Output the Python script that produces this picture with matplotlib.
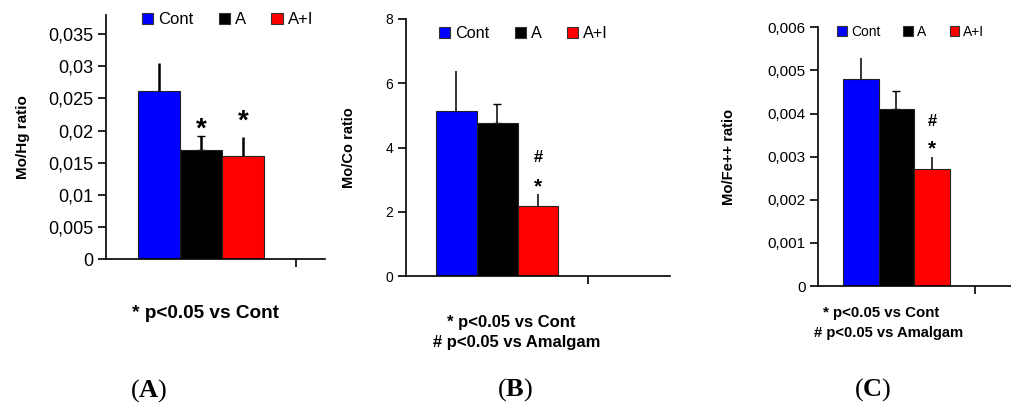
import matplotlib
matplotlib.use("Agg")
import matplotlib.pyplot as plt
from matplotlib.patches import Patch
import numpy as np

plt.rcParams['font.family'] = ['Liberation Sans', 'DejaVu Sans']
plt.rcParams['mathtext.fontset'] = 'custom'
plt.rcParams['mathtext.rm'] = 'Liberation Serif'
plt.rcParams['mathtext.bf'] = 'Liberation Serif:bold'

groups = ["Cont", "A", "A+I"]
colors = ["#0000FF", "#000000", "#FF0000"]

# Panel A: Mo/Hg
hg_vals = [0.0261, 0.0169, 0.0160]
hg_err = [0.0045, 0.0023, 0.0030]
hg_marks = [[], ["*"], ["*"]]
hg_ticks = [0, 0.005, 0.01, 0.015, 0.02, 0.025, 0.03, 0.035]
hg_ticklabels = ["0", "0,005", "0,01", "0,015", "0,02", "0,025", "0,03", "0,035"]

# Panel B: Mo/Co
co_vals = [5.15, 4.77, 2.19]
co_err = [1.24, 0.59, 0.35]
co_marks = [[], [], ["*", "#"]]
co_ticks = [0, 2, 4, 6, 8]
co_ticklabels = ["0", "2", "4", "6", "8"]

# Panel C: Mo/Fe++
fe_vals = [0.00480, 0.00411, 0.00272]
fe_err = [0.00048, 0.00041, 0.00027]
fe_marks = [[], [], ["*", "#"]]
fe_ticks = [0, 0.001, 0.002, 0.003, 0.004, 0.005, 0.006]
fe_ticklabels = ["0", "0,001", "0,002", "0,003", "0,004", "0,005", "0,006"]

W, H = 1012, 405
fig = plt.figure(figsize=(W / 100, H / 100), dpi=100)

# glyph vertical centre (fraction of em above baseline)
GLYPH_CENTER = {"*": 0.44, "#": 0.35}
CAPS = [0, 3, 0]


def px_axes(l, r, b, t):
    return fig.add_axes([l / W, 1 - b / H, (r - l) / W, (b - t) / H])


def panel(ax, vals, errs, marks, ticks, ticklabels, ylim, xright, bw,
          ylabel, ylsize, ticksize, legsize, legpos, colsp, mark_style, elw):
    x = np.array([-1, 0, 1]) * bw
    for i in range(3):
        ax.bar(x[i], vals[i], width=bw, color=colors[i], edgecolor="#222222",
               linewidth=0.8, zorder=2)
        ax.errorbar(x[i], vals[i], yerr=[[0], [errs[i]]], color="black",
                    linewidth=elw, capsize=CAPS[i], capthick=1.0, zorder=1)
        for j, m in enumerate(marks[i]):
            fs, centre_px = mark_style[(i, j)]
            off = centre_px - GLYPH_CENTER[m] * fs * 100 / 72
            ax.annotate(m, (x[i], vals[i] + errs[i]), xytext=(0, off),
                        textcoords="offset pixels", ha="center", va="baseline",
                        fontsize=fs, fontweight="bold")
    ax.set_xlim(-0.5, xright)
    ax.set_ylim(*ylim)
    ax.set_xticks([0.5])
    ax.set_xticklabels([""])
    ax.set_yticks(ticks)
    ax.set_yticklabels(ticklabels, fontsize=ticksize)
    for s in ["top", "right"]:
        ax.spines[s].set_visible(False)
    for s in ["left", "bottom"]:
        ax.spines[s].set_linewidth(1.2)
    ax.tick_params(axis="both", direction="out", length=6, width=1.2, pad=3)
    ax.set_ylabel(ylabel, fontsize=ylsize, fontweight="bold")
    handles = [Patch(facecolor=c, edgecolor="#333333", linewidth=0.8) for c in colors]
    ax.legend(handles, groups, ncol=3, frameon=False, loc="center",
              bbox_to_anchor=legpos, fontsize=legsize, handlelength=0.7,
              handleheight=0.7, handletextpad=0.3, columnspacing=colsp,
              borderaxespad=0, borderpad=0)


axA = px_axes(106, 325, 259, 15)
panel(axA, hg_vals, hg_err, hg_marks, hg_ticks, hg_ticklabels, (0, 0.038), 0.653,
      0.221, "Mo/Hg ratio", 11, 13, 12, (0.555, 0.98), 1.5,
      {(1, 0): (20, 11), (2, 0): (20, 21)}, 1.8)
axA.yaxis.set_label_coords(-0.345, 0.5)

axB = px_axes(406, 670, 276, 19)
panel(axB, co_vals, co_err, co_marks, co_ticks, co_ticklabels, (0, 8), 0.95,
      0.225, "Mo/Co ratio", 10.5, 10, 11.7, (0.445, 0.942), 1.55,
      {(2, 0): (15, 11.5), (2, 1): (12, 38)}, 1.1)
axB.yaxis.set_label_coords(-0.19, 0.5)

axC = px_axes(818, 1012, 286, 27.3)
panel(axC, fe_vals, fe_err, fe_marks, fe_ticks, fe_ticklabels, (0, 0.006), 0.736,
      0.226, "Mo/Fe++ ratio", 10.6, 11, 10, (0.479, 0.982), 1.65,
      {(2, 0): (15, 12), (2, 1): (12, 37)}, 1.1)
axC.yaxis.set_label_coords(-0.425, 0.5)

# footnotes
fig.text(206 / W, 1 - 313 / H, "* p<0.05 vs Cont", ha="center", va="center",
         fontsize=13.7, fontweight="bold")
fig.text(511 / W, 1 - 322 / H, "* p<0.05 vs Cont", ha="center", va="center",
         fontsize=12, fontweight="bold")
fig.text(517 / W, 1 - 342 / H, "# p<0.05 vs Amalgam", ha="center", va="center",
         fontsize=12, fontweight="bold")
fig.text(881 / W, 1 - 313 / H, "* p<0.05 vs Cont", ha="center", va="center",
         fontsize=10.8, fontweight="bold")
fig.text(889 / W, 1 - 333 / H, "# p<0.05 vs Amalgam", ha="center", va="center",
         fontsize=10.6, fontweight="bold")

# panel labels
for xc, yc, lab in [(149, 391, "A"), (515, 390, "B"), (873, 390, "C")]:
    fig.text(xc / W, 1 - yc / H, "($\\mathbf{%s}$)" % lab, ha="center", va="center",
             fontsize=19, family="Liberation Serif")

fig.savefig("out.png", dpi=100)
